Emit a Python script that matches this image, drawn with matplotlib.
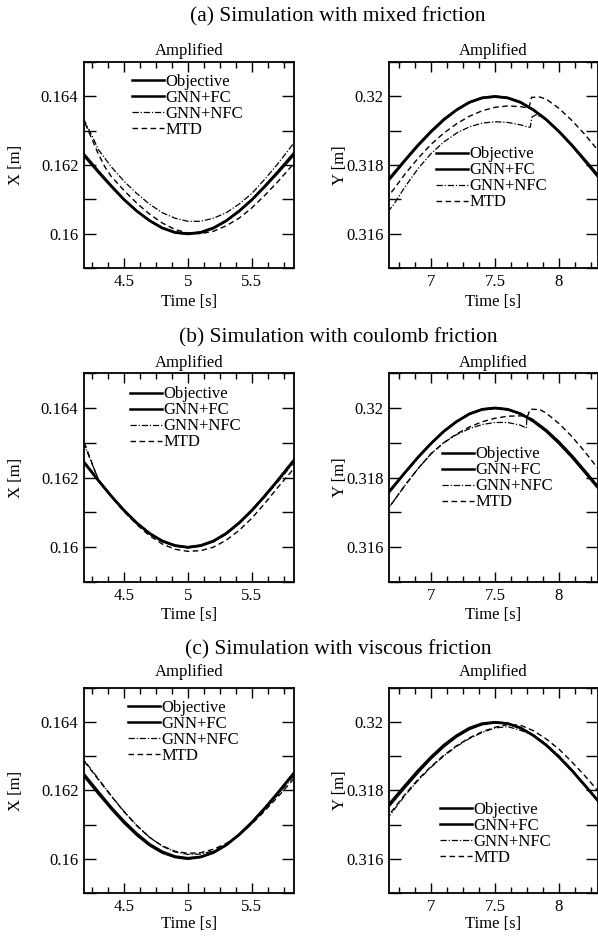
import matplotlib
matplotlib.use('Agg')
import matplotlib.pyplot as plt
from matplotlib.ticker import MultipleLocator, FuncFormatter

plt.rcParams['font.family'] = ['Liberation Serif', 'DejaVu Serif']

# ---------------- data ----------------
titles = ['(a) Simulation with mixed friction',
          '(b) Simulation with coulomb friction',
          '(c) Simulation with viscous friction']
labels = ['Objective', 'GNN+FC', 'GNN+NFC', 'MTD']

t_left = [4.1, 4.2, 4.3, 4.4, 4.5, 4.6, 4.7, 4.8, 4.9, 5.0,
          5.1, 5.2, 5.3, 5.4, 5.5, 5.6, 5.7, 5.8, 5.9]
t_right = [6.6, 6.7, 6.8, 6.9, 7.0, 7.1, 7.2, 7.3, 7.4, 7.5,
           7.6, 7.7, 7.8, 7.9, 8.0, 8.1, 8.2, 8.3, 8.4]

# (a) mixed friction, X
a_x_obj = [0.16265, 0.16222, 0.16179, 0.16138, 0.16099, 0.16066, 0.16038, 0.16017, 0.16004, 0.16000,
           0.16004, 0.16017, 0.16038, 0.16066, 0.16099, 0.16138, 0.16179, 0.16222, 0.16265]
a_x_fc = [0.16268, 0.16226, 0.16182, 0.16140, 0.16100, 0.16066, 0.16038, 0.16016, 0.16003, 0.15999,
          0.16003, 0.16016, 0.16037, 0.16065, 0.16098, 0.16136, 0.16176, 0.16218, 0.16260]
a_x_nfc_t = [4.15, 4.2, 4.25, 4.3, 4.4, 4.5, 4.6, 4.7, 4.8, 4.9, 5.0,
             5.1, 5.2, 5.3, 5.4, 5.5, 5.6, 5.7, 5.8, 5.9]
a_x_nfc = [0.16365, 0.16322, 0.16285, 0.16245, 0.16195, 0.16153, 0.16117, 0.16086, 0.16061, 0.16045, 0.16036,
           0.16036, 0.16045, 0.16061, 0.16086, 0.16117, 0.16158, 0.16202, 0.16250, 0.16298]
a_x_mtd_t = [4.15, 4.2, 4.25, 4.3, 4.35, 4.4, 4.5, 4.6, 4.7, 4.8, 4.9, 5.0,
             5.1, 5.2, 5.3, 5.4, 5.5, 5.6, 5.7, 5.8, 5.9]
a_x_mtd = [0.16370, 0.16318, 0.16275, 0.16232, 0.16195, 0.16167, 0.16126, 0.16089, 0.16057, 0.16031, 0.16012, 0.16002,
           0.16000, 0.16007, 0.16023, 0.16045, 0.16075, 0.16111, 0.16150, 0.16192, 0.16235]

# (a) mixed friction, Y
y_obj = [0.31728, 0.31772, 0.31816, 0.31859, 0.31898, 0.31933, 0.31961, 0.31983, 0.31996, 0.32000,
         0.31996, 0.31983, 0.31961, 0.31933, 0.31898, 0.31859, 0.31816, 0.31772, 0.31728]
a_y_fc = [0.31725, 0.31769, 0.31814, 0.31857, 0.31896, 0.31931, 0.31960, 0.31982, 0.31995, 0.31999,
          0.31995, 0.31982, 0.31960, 0.31932, 0.31897, 0.31857, 0.31813, 0.31768, 0.31723]
a_y_nfc_t = [6.6, 6.7, 6.8, 6.9, 7.0, 7.1, 7.2, 7.3, 7.4, 7.5, 7.6, 7.7, 7.75, 7.775,
             7.79, 7.82, 7.86, 7.9, 8.0, 8.1, 8.2, 8.3, 8.4]
a_y_nfc = [0.31640, 0.31680, 0.31738, 0.31790, 0.31833, 0.31867, 0.31893, 0.31911, 0.31922, 0.31926,
           0.31924, 0.31917, 0.31911, 0.31910, 0.31940, 0.31946, 0.31940, 0.31931, 0.31897, 0.31858,
           0.31815, 0.31771, 0.31727]
a_y_mtd_t = [6.6, 6.7, 6.8, 6.9, 7.0, 7.1, 7.2, 7.3, 7.4, 7.5, 7.6, 7.7, 7.765, 7.785,
             7.85, 7.9, 8.0, 8.1, 8.2, 8.3, 8.4]
a_y_mtd = [0.31680, 0.31725, 0.31775, 0.31820, 0.31860, 0.31893, 0.31920, 0.31942, 0.31958, 0.31968,
           0.31972, 0.31970, 0.31966, 0.31997, 0.31998, 0.31992, 0.31965, 0.31930, 0.31890, 0.31845,
           0.31795]

# (b) coulomb friction, X
bc_x_obj = [0.16282, 0.16237, 0.16191, 0.16147, 0.16106, 0.16070, 0.16040, 0.16018, 0.16005, 0.16000,
            0.16005, 0.16018, 0.16040, 0.16070, 0.16106, 0.16147, 0.16191, 0.16237, 0.16282]
b_x_fc = [0.16284, 0.16239, 0.16192, 0.16147, 0.16106, 0.16069, 0.16039, 0.16017, 0.16004, 0.15999,
          0.16004, 0.16017, 0.16039, 0.16069, 0.16105, 0.16146, 0.16190, 0.16235, 0.16280]
b_x_nfc = [0.16360, 0.16285, 0.16195, 0.16146, 0.16105, 0.16069, 0.16039, 0.16017, 0.16004, 0.16000,
           0.16003, 0.16015, 0.16037, 0.16067, 0.16103, 0.16143, 0.16186, 0.16230, 0.16273]
b_x_mtd = [0.16370, 0.16290, 0.16192, 0.16145, 0.16102, 0.16065, 0.16033, 0.16009, 0.15994, 0.15988,
           0.15990, 0.16000, 0.16020, 0.16048, 0.16083, 0.16125, 0.16170, 0.16213, 0.16258]

# (b) coulomb friction, Y
b_y_fc = [0.31726, 0.31770, 0.31815, 0.31858, 0.31897, 0.31932, 0.31960, 0.31982, 0.31995, 0.31999,
          0.31995, 0.31983, 0.31963, 0.31936, 0.31902, 0.31863, 0.31820, 0.31776, 0.31732]
b_y_nfc_t = [6.6, 6.7, 6.8, 6.9, 7.0, 7.1, 7.2, 7.3, 7.4, 7.5, 7.6, 7.7, 7.745, 7.75,
             7.8, 7.9, 8.0, 8.1, 8.2, 8.3, 8.4]
b_y_nfc = [0.31680, 0.31728, 0.31779, 0.31826, 0.31868, 0.31900, 0.31923, 0.31940, 0.31952, 0.31958,
           0.31958, 0.31950, 0.31942, 0.31976, 0.31966, 0.31937, 0.31903, 0.31864, 0.31821, 0.31777,
           0.31733]
b_y_mtd_t = [6.6, 6.7, 6.8, 6.9, 7.0, 7.1, 7.2, 7.3, 7.4, 7.5, 7.6, 7.7, 7.755, 7.775,
             7.85, 7.9, 8.0, 8.1, 8.2, 8.3, 8.4]
b_y_mtd = [0.31680, 0.31728, 0.31779, 0.31826, 0.31868, 0.31900, 0.31925, 0.31945, 0.31960, 0.31970,
           0.31976, 0.31977, 0.31976, 0.31996, 0.31995, 0.31985, 0.31955, 0.31918, 0.31875, 0.31828,
           0.31778]

# (c) viscous friction, X
c_x_fc = [0.16287, 0.16242, 0.16196, 0.16151, 0.16110, 0.16074, 0.16043, 0.16021, 0.16007, 0.16002,
          0.16006, 0.16019, 0.16041, 0.16071, 0.16107, 0.16148, 0.16192, 0.16238, 0.16283]
c_x_nfc = [0.16330, 0.16283, 0.16234, 0.16185, 0.16139, 0.16098, 0.16063, 0.16037, 0.16020, 0.16013,
           0.16014, 0.16023, 0.16042, 0.16068, 0.16103, 0.16143, 0.16186, 0.16230, 0.16274]
c_x_mtd = [0.16325, 0.16280, 0.16232, 0.16184, 0.16138, 0.16097, 0.16063, 0.16038, 0.16022, 0.16016,
           0.16018, 0.16028, 0.16045, 0.16070, 0.16102, 0.16140, 0.16180, 0.16222, 0.16265]

# (c) viscous friction, Y
c_y_fc = [0.31723, 0.31767, 0.31811, 0.31854, 0.31894, 0.31929, 0.31958, 0.31980, 0.31994, 0.31999,
          0.31996, 0.31983, 0.31961, 0.31933, 0.31898, 0.31859, 0.31816, 0.31772, 0.31728]
c_y_nfc = [0.31690, 0.31738, 0.31787, 0.31830, 0.31868, 0.31901, 0.31929, 0.31952, 0.31970, 0.31983,
           0.31987, 0.31976, 0.31963, 0.31936, 0.31902, 0.31862, 0.31818, 0.31774, 0.31730]
c_y_mtd = [0.31695, 0.31742, 0.31790, 0.31833, 0.31870, 0.31903, 0.31931, 0.31954, 0.31972, 0.31985,
           0.31993, 0.31991, 0.31975, 0.31951, 0.31921, 0.31884, 0.31844, 0.31801, 0.31756]

# ---------------- layout (pixels of a 598x939 canvas) ----------------
W, H = 598, 939
fig = plt.figure(figsize=(W / 100, H / 100), dpi=100)
fig.patch.set_facecolor('white')


def px_rect(x0, x1, top, bottom):
    return [x0 / W, 1 - bottom / H, (x1 - x0) / W, (bottom - top) / H]


def fmt(v, pos):
    return '%g' % round(v, 4)


def panel(rect, xlim, ylim, obj, fc, nfc, mtd, ylab, leg_xy, amp_pad, lab_x, lab_y):
    ax = fig.add_axes(px_rect(*rect))
    l1, = ax.plot(obj[0], obj[1], color='black', lw=1.8, zorder=3)
    l2, = ax.plot(fc[0], fc[1], color='black', lw=1.8, zorder=3)
    l3, = ax.plot(nfc[0], nfc[1], color='black', lw=0.9, dashes=(5, 1.5, 1, 1.5), zorder=4)
    l4, = ax.plot(mtd[0], mtd[1], color='black', lw=1.0, dashes=(4, 2.5), zorder=4)
    ax.set_xlim(*xlim)
    ax.set_ylim(*ylim)
    ax.xaxis.set_major_locator(MultipleLocator(0.5))
    ax.xaxis.set_minor_locator(MultipleLocator(0.125))
    ax.yaxis.set_major_locator(MultipleLocator(0.002))
    ax.yaxis.set_minor_locator(MultipleLocator(0.001))
    ax.xaxis.set_major_formatter(FuncFormatter(fmt))
    ax.yaxis.set_major_formatter(FuncFormatter(fmt))
    ax.tick_params(which='both', direction='in', top=True, right=True, width=1.0,
                   labelsize=12, pad=4)
    ax.tick_params(axis='x', which='major', length=7)
    ax.tick_params(axis='x', which='minor', length=4.5)
    ax.tick_params(axis='y', which='both', length=8.5)
    for s in ax.spines.values():
        s.set_linewidth(1.3)
    ax.set_title('Amplified', fontsize=12, pad=amp_pad)
    ax.set_xlabel('Time [s]', fontsize=12)
    ax.set_ylabel(ylab, fontsize=12)
    ax.xaxis.set_label_coords(0.5, lab_y)
    ax.yaxis.set_label_coords(lab_x, 0.5)
    hx, hy = leg_xy
    ax.legend([l1, l2, l3, l4], labels, loc='upper left',
              bbox_to_anchor=(hx / W, 1 - (hy - 8.5) / H), bbox_transform=fig.transFigure,
              frameon=False, borderaxespad=0, borderpad=0, handlelength=1.9,
              handletextpad=0.1, labelspacing=0.0, fontsize=12)
    return ax


xl_left = (4.1875, 5.83)
xl_right = (6.672, 8.305)
yl_left = (0.159, 0.165)
yl_right = (0.315, 0.321)

# row (a)
panel((84, 294, 62, 268), xl_left, yl_left,
      (t_left, a_x_obj), (t_left, a_x_fc), (a_x_nfc_t, a_x_nfc), (a_x_mtd_t, a_x_mtd),
      'X [m]', (132, 82), 5, -0.285, -0.125)
panel((389, 598, 62, 268), xl_right, yl_right,
      (t_right, y_obj), (t_right, a_y_fc), (a_y_nfc_t, a_y_nfc), (a_y_mtd_t, a_y_mtd),
      'Y [m]', (436, 155), 5, -0.196, -0.125)
# row (b)
panel((84, 294, 373, 582), xl_left, yl_left,
      (t_left, bc_x_obj), (t_left, b_x_fc), (t_left, b_x_nfc), (t_left, b_x_mtd),
      'X [m]', (130, 395), 4.5, -0.285, -0.118)
panel((389, 598, 373, 582), xl_right, yl_right,
      (t_right, y_obj), (t_right, b_y_fc), (b_y_nfc_t, b_y_nfc), (b_y_mtd_t, b_y_mtd),
      'Y [m]', (442, 455), 4.5, -0.196, -0.118)
# row (c)
panel((84, 294, 688, 893), xl_left, yl_left,
      (t_left, bc_x_obj), (t_left, c_x_fc), (t_left, c_x_nfc), (t_left, c_x_mtd),
      'X [m]', (128, 708), 9, -0.285, -0.112)
panel((389, 598, 688, 893), xl_right, yl_right,
      (t_right, y_obj), (t_right, c_y_fc), (t_right, c_y_nfc), (t_right, c_y_mtd),
      'Y [m]', (440, 810), 9, -0.196, -0.112)

for title, yc in zip(titles, [17, 338, 650]):
    fig.text(338 / W, 1 - yc / H, title, ha='center', va='center', fontsize=15.5)

fig.savefig('out.png', dpi=100, facecolor='white')
